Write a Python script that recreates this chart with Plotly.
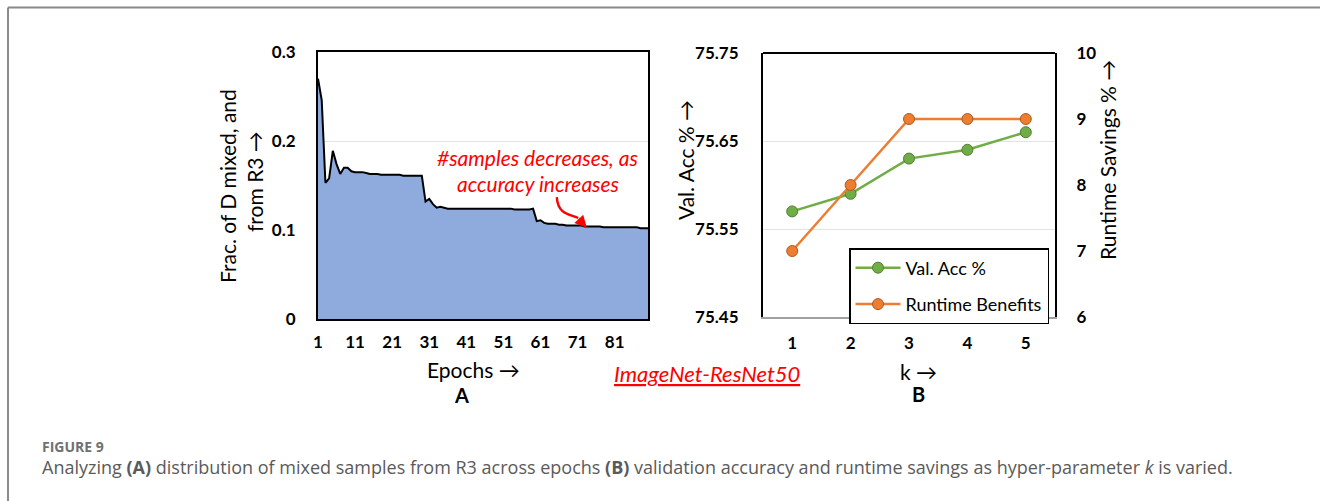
import plotly.graph_objects as go

W, H = 1320, 501

# ---- Panel A data ----
epochs = list(range(1, 91))
frac_r3 = [
    0.270, 0.246, 0.153, 0.158, 0.189, 0.174, 0.163, 0.170, 0.170, 0.166,
    0.165, 0.165, 0.165, 0.164, 0.163, 0.163, 0.163, 0.162, 0.162, 0.162,
    0.162, 0.162, 0.162, 0.161, 0.161, 0.161, 0.161, 0.161, 0.161, 0.132,
    0.135, 0.129, 0.125, 0.126, 0.125, 0.124, 0.124, 0.124, 0.124, 0.124,
    0.124, 0.124, 0.124, 0.124, 0.124, 0.124, 0.124, 0.124, 0.124, 0.124,
    0.124, 0.124, 0.124, 0.123, 0.123, 0.123, 0.123, 0.123, 0.124, 0.110,
    0.111, 0.108, 0.107, 0.107, 0.107, 0.106, 0.106, 0.105, 0.105, 0.105,
    0.105, 0.105, 0.104, 0.104, 0.104, 0.104, 0.104, 0.103, 0.103, 0.103,
    0.103, 0.103, 0.103, 0.103, 0.103, 0.103, 0.103, 0.102, 0.102, 0.102,
]
epoch_ticks = [1, 11, 21, 31, 41, 51, 61, 71, 81]
frac_ticks = [0, 0.1, 0.2, 0.3]
frac_ticktext = ["0", "0.1", "0.2", "0.3"]

# ---- Panel B data ----
k_vals = [1, 2, 3, 4, 5]
val_acc = [75.57, 75.59, 75.63, 75.64, 75.66]
runtime_savings = [7, 8, 9, 9, 9]
acc_ticks = [75.45, 75.55, 75.65, 75.75]
runtime_ticks = [6, 7, 8, 9, 10]

FONT = "Lato"


def px_x(p):
    return p / W


def px_y(p):
    return 1 - p / H


fig = go.Figure()

fig.add_trace(go.Scatter(
    x=epochs, y=frac_r3, mode="lines", fill="tozeroy",
    fillcolor="#8FAADC", line=dict(color="black", width=2),
    xaxis="x", yaxis="y", showlegend=False, hoverinfo="x+y",
))

fig.add_trace(go.Scatter(
    x=k_vals, y=val_acc, mode="lines+markers", name="Val. Acc %",
    line=dict(color="#70AD47", width=2.5),
    marker=dict(size=11, color="#70AD47", line=dict(color="#507E32", width=1)),
    xaxis="x2", yaxis="y2", legendgroup="a",
))
fig.add_trace(go.Scatter(
    x=k_vals, y=runtime_savings, mode="lines+markers", name="Runtime Benefits",
    line=dict(color="#ED7D31", width=2.5),
    marker=dict(size=11, color="#ED7D31", line=dict(color="#AE5A21", width=1)),
    xaxis="x2", yaxis="y3", legendgroup="b",
))

tickfont = dict(family=FONT, size=17, color="black", weight="bold")

layout = dict(
    width=W, height=H,
    margin=dict(l=0, r=0, t=0, b=0, pad=0, autoexpand=False),
    paper_bgcolor="white", plot_bgcolor="white",
    showlegend=True,
    legend=dict(
        x=px_x(849), y=px_y(248), xanchor="left", yanchor="top",
        bgcolor="white", bordercolor="black", borderwidth=1.5,
        font=dict(family=FONT, size=18, color="black"),
        tracegroupgap=10, itemwidth=45,
    ),
    xaxis=dict(
        domain=[px_x(318), px_x(648)], range=[1, 90],
        tickvals=epoch_ticks, ticktext=[str(t) for t in epoch_ticks],
        tickfont=tickfont, showgrid=False, zeroline=False,
        showline=True, linecolor="black", linewidth=2, mirror=True,
        ticks="", ticklabelstandoff=7, anchor="y", automargin=False,
    ),
    yaxis=dict(
        domain=[px_y(319), px_y(52)], range=[0, 0.3],
        tickvals=frac_ticks, ticktext=frac_ticktext,
        tickfont=tickfont, showgrid=True, gridcolor="#E3E3E3", gridwidth=1,
        zeroline=False, showline=True, linecolor="black", linewidth=2,
        mirror=True, ticks="", ticklabelstandoff=17, anchor="x",
        automargin=False,
    ),
    xaxis2=dict(
        domain=[px_x(763), px_x(1055)], range=[0.5, 5.5],
        tickvals=k_vals, ticktext=[str(k) for k in k_vals],
        tickfont=tickfont, showgrid=False, zeroline=False,
        showline=True, linecolor="#A0A0A0", linewidth=2,
        ticks="", ticklabelstandoff=10, anchor="y2", automargin=False,
    ),
    yaxis2=dict(
        domain=[px_y(317), px_y(53)], range=[75.45, 75.75],
        tickvals=acc_ticks, ticktext=[f"{v:.2f}" for v in acc_ticks],
        tickfont=tickfont, showgrid=True, gridcolor="#E3E3E3", gridwidth=1,
        zeroline=False, showline=True, linecolor="black", linewidth=2,
        ticks="", ticklabelstandoff=19, anchor="x2", automargin=False,
    ),
    yaxis3=dict(
        domain=[px_y(317), px_y(53)], range=[6, 10],
        tickvals=runtime_ticks, ticktext=[str(v) for v in runtime_ticks],
        tickfont=tickfont, showgrid=False, zeroline=False,
        showline=True, linecolor="black", linewidth=2,
        ticks="", ticklabelstandoff=16, overlaying="y2", side="right",
        anchor="x2", automargin=False,
    ),
)
fig.update_layout(**layout)

# top border of panel B
fig.add_shape(type="line", xref="x2 domain", yref="y2 domain",
              x0=0, x1=1, y0=1, y1=1, line=dict(color="black", width=2))

# outer frame of the figure box
fig.add_shape(type="line", xref="paper", yref="paper",
              x0=px_x(8), x1=1, y0=px_y(7.5), y1=px_y(7.5),
              line=dict(color="#8A8A8A", width=2))
fig.add_shape(type="line", xref="paper", yref="paper",
              x0=px_x(8), x1=px_x(8), y0=px_y(7.5), y1=0,
              line=dict(color="#8A8A8A", width=2))

# curved red arrow
fig.add_shape(type="path", xref="x", yref="y",
              path="M 65.4,0.137 C 65.7,0.118 68.5,0.118 71.2,0.1135",
              line=dict(color="#FF0000", width=2.4))
fig.add_annotation(x=73.5, y=0.1025, ax=71.0, ay=0.114, xref="x", yref="y",
                   axref="x", ayref="y", text="", showarrow=True,
                   arrowhead=2, arrowsize=1, arrowwidth=2.4,
                   arrowcolor="#FF0000")


def txt(text, x, y, size, color="black", angle=0, bold=False, italic=False,
        family=FONT, xanchor="center"):
    fig.add_annotation(
        text=text, x=px_x(x), y=px_y(y), xref="paper", yref="paper",
        showarrow=False, textangle=angle, xanchor=xanchor, yanchor="middle",
        font=dict(family=family, size=size, color=color,
                  weight="bold" if bold else "normal",
                  style="italic" if italic else "normal"),
    )


# Panel A labels
txt("Frac. of D mixed, and", 227, 186, 21, angle=-90)
txt("from R3 \u2192", 254, 182, 21, angle=-90)
txt("Epochs \u2192", 473, 369, 21)
txt("A", 462, 395, 20, bold=True)
txt("#samples decreases, as", 537, 157, 21, color="#FF0000", italic=True)
txt("accuracy increases", 538, 183, 21, color="#FF0000", italic=True)

# middle label
txt("<u>ImageNet-ResNet50</u>", 707, 373, 22, color="#FF0000", italic=True)

# Panel B labels
txt("Val. Acc % \u2192", 685, 160, 21, angle=-90)
txt("Runtime Savings % \u2192", 1107, 160, 21, angle=-90)
txt("k \u2192", 918, 371, 21)
txt("B", 918, 394, 20, bold=True)

# caption
txt("FIGURE 9", 40, 446, 14, color="#707070", bold=True,
    family="Open Sans", xanchor="left")
txt("Analyzing <b>(A)</b> distribution of mixed samples from R3 across epochs "
    "<b>(B)</b> validation accuracy and runtime savings as hyper-parameter "
    "<i>k</i> is varied.", 40, 467, 18, color="#5A5A5A",
    family="Open Sans", xanchor="left")

fig.write_html("out.html")
